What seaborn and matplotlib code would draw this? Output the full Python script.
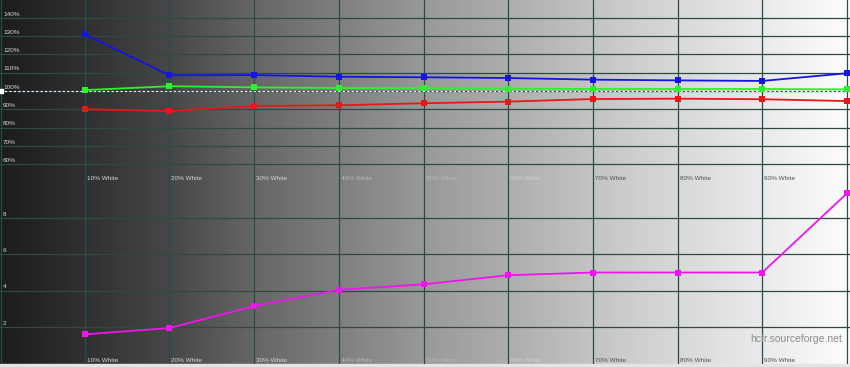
import numpy as np
import pandas as pd
import matplotlib
matplotlib.use("Agg")
import matplotlib.pyplot as plt
import seaborn as sns

# ---- data ----
levels = [10, 20, 30, 40, 50, 60, 70, 80, 90, 100]
level_labels = ["10% White", "20% White", "30% White", "40% White", "50% White",
                "60% White", "70% White", "80% White", "90% White"]
red_pct = [90.0, 89.1, 91.8, 92.2, 93.3, 94.2, 95.6, 95.8, 95.5, 94.5]
green_pct = [100.5, 102.6, 102.0, 101.6, 101.6, 101.3, 101.1, 101.1, 101.1, 100.9]
blue_pct = [131.0, 108.6, 108.7, 107.8, 107.5, 107.1, 106.2, 105.8, 105.5, 109.7]
delta_e = [1.6, 1.95, 3.15, 4.05, 4.35, 4.85, 5.0, 5.0, 5.0, 9.35]
top_ticks = [60, 70, 80, 90, 100, 110, 120, 130, 140]
top_tick_labels = ["60%", "70%", "80%", "90%", "100%", "110%", "120%", "130%", "140%"]
bot_ticks = [2, 4, 6, 8]
bot_tick_labels = ["2", "4", "6", "8"]
watermark = "hcfr.sourceforge.net"

sns.set_theme(style="white")
plt.rcParams["font.family"] = ["Liberation Sans", "DejaVu Sans"]

W, H = 850, 367
fig = plt.figure(figsize=(W / 100, H / 100), dpi=100)

# background gradient
bg = fig.add_axes([0, 0, 1, 1], zorder=0)
xs = np.linspace(0, 1, 850)
ctrl_x = [0.0, 0.1, 0.2, 0.3, 0.4, 0.5, 0.6, 0.7, 0.8, 0.9, 1.0]
ctrl_v = [0.11, 0.19, 0.28, 0.40, 0.50, 0.60, 0.68, 0.77, 0.85, 0.92, 0.99]
vals = np.interp(xs, ctrl_x, ctrl_v)
img = np.repeat(vals[None, :], 10, axis=0)
rgb = np.stack([img, img, img], axis=-1)
bg.imshow(rgb, aspect="auto", extent=[0, 1, 0, 1], interpolation="bilinear")
bg.add_patch(plt.Rectangle((0, 0), 1, 3.5 / H, color="#e4e4e4", zorder=5))
bg.set_xlim(0, 1); bg.set_ylim(0, 1)
bg.axis("off")

grid_c = "#2c4a48"
xmax = 100 * 850 / 847

def text_color(lv):
    if lv <= 30:
        return "#d8d8d8"
    if lv <= 50:
        return "#b8b8b8"
    if lv <= 60:
        return "#d0d0d0"
    return "#505050"

def style_axes(ax):
    ax.set_facecolor("none")
    for s in ax.spines.values():
        s.set_visible(False)
    ax.set_xticks([]); ax.set_yticks([])
    ax.set_xlabel(""); ax.set_ylabel("")
    ax.set_xlim(0, xmax)

def vgrid(ax):
    for lv in [0.15] + levels:
        ax.axvline(lv, color=grid_c, lw=0.9, zorder=1)

# ---- top panel ----
top = fig.add_axes([0, (H - 184) / H, 1, 184 / H], zorder=2)
for vals_, col in [(red_pct, "#e61818"), (green_pct, "#2cf22c"), (blue_pct, "#1414e6")]:
    sns.lineplot(x=levels, y=vals_, ax=top, color=col, marker="s", markersize=4,
                 markeredgewidth=0, linewidth=1.3, clip_on=False, zorder=4,
                 errorbar=None)
style_axes(top)
vgrid(top)
top.set_ylim(100 - 93 / 1.83, 100 + 91 / 1.83)
for t in top_ticks:
    top.axhline(t, color=grid_c, lw=0.9, zorder=1)
top.axhline(100, color="white", lw=0.8, ls=(0, (2, 2)), zorder=2)
top.plot([0.15], [100], marker="s", color="white", ms=3, clip_on=False, zorder=3)

for t, lab in zip(top_ticks, top_tick_labels):
    top.annotate(lab, (0, t), xytext=(3, 1.2), textcoords="offset pixels",
                 fontsize=4.6, color="#d8d8d8", ha="left", va="bottom")
for lv, lab in zip(levels, level_labels):
    top.annotate(lab, (lv, 0), xycoords=("data", "axes fraction"),
                 xytext=(2, 6), textcoords="offset pixels",
                 fontsize=4.6, color=text_color(lv), ha="left", va="center")

# ---- bottom panel ----
bot = fig.add_axes([0, 3.5 / H, 1, 180.5 / H], zorder=2)
sns.lineplot(x=levels, y=delta_e, ax=bot, color="#f014f0", marker="s", markersize=4,
             markeredgewidth=0, linewidth=1.3, clip_on=False, zorder=4,
             errorbar=None)
style_axes(bot)
vgrid(bot)
bot.set_ylim(0, 180.5 / 18.2)
for t in bot_ticks:
    bot.axhline(t, color=grid_c, lw=0.9, zorder=1)
for t, lab in zip(bot_ticks, bot_tick_labels):
    bot.annotate(lab, (0, t), xytext=(3, 1.2), textcoords="offset pixels",
                 fontsize=4.6, color="#d8d8d8", ha="left", va="bottom")
for lv, lab in zip(levels, level_labels):
    bot.annotate(lab, (lv, 0), xycoords=("data", "axes fraction"),
                 xytext=(2, 3.5), textcoords="offset pixels",
                 fontsize=4.6, color=text_color(lv), ha="left", va="center")
bot.annotate(watermark, (1, 0), xycoords="axes fraction", xytext=(-8, 24),
             textcoords="offset pixels", fontsize=7.5, color="#8c8c8c",
             ha="right", va="center")

fig.savefig("out.png", dpi=100)
